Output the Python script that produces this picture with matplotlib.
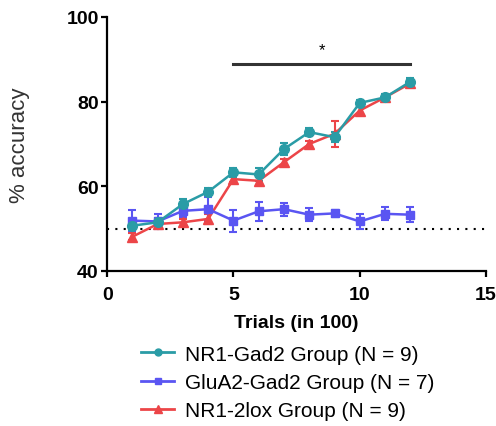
import numpy as np
import matplotlib
matplotlib.use("Agg")
import matplotlib.pyplot as plt
from matplotlib.lines import Line2D

plt.rcParams['font.family'] = ['Liberation Sans', 'DejaVu Sans']

trials = np.arange(1, 13)

nr1_gad2 = [50.7, 51.5, 55.8, 58.7, 63.3, 62.8, 68.8, 72.8, 71.6, 79.7, 81.0, 84.7]
nr1_gad2_err = [1.0, 1.0, 1.2, 0.8, 1.0, 1.5, 1.5, 1.0, 1.2, 0.8, 0.8, 0.8]

glua2_gad2 = [51.9, 51.7, 54.2, 54.6, 51.9, 54.1, 54.6, 53.3, 53.6, 51.7, 53.5, 53.3]
glua2_gad2_err = [2.5, 1.8, 1.5, 2.8, 2.6, 2.2, 1.5, 1.5, 0.8, 1.8, 1.5, 1.8]

nr1_2lox = [48.1, 51.1, 51.5, 52.3, 61.7, 61.3, 65.7, 70.0, 72.4, 77.9, 81.0, 84.3]
nr1_2lox_err = [0.8, 0.8, 0.8, 1.2, 0.8, 1.0, 0.8, 0.8, 3.0, 0.8, 0.8, 0.8]

labels = ['NR1-Gad2 Group (N = 9)', 'GluA2-Gad2 Group (N = 7)', 'NR1-2lox Group (N = 9)']
c_teal = '#2a9ca6'
c_blue = '#5a55f2'
c_red = '#ec4548'

fig = plt.figure(figsize=(4.96, 4.27), dpi=100)
ax = fig.add_axes([0.216, 0.363, 0.764, 0.595])

ax.errorbar(trials, nr1_2lox, yerr=nr1_2lox_err, color=c_red, marker='^',
            markersize=7, lw=1.8, capsize=3, elinewidth=1.5, capthick=1.5)
ax.errorbar(trials, glua2_gad2, yerr=glua2_gad2_err, color=c_blue, marker='s',
            markersize=6, lw=1.8, capsize=3, elinewidth=1.5, capthick=1.5)
ax.errorbar(trials, nr1_gad2, yerr=nr1_gad2_err, color=c_teal, marker='o',
            markersize=7, lw=1.8, capsize=3, elinewidth=1.5, capthick=1.5)

# chance level
ax.axhline(50, color='black', ls=(0, (1, 3)), lw=1.5, zorder=0)

# significance bar
ax.plot([5, 12], [89, 89], color='#333333', lw=2.2)
ax.text(8.5, 92.3, '*', ha='center', va='center', fontsize=12)

ax.set_xlim(0, 15)
ax.set_ylim(40, 100)
ax.set_xticks([0, 5, 10, 15])
ax.set_yticks([40, 60, 80, 100])
for s in ['top', 'right']:
    ax.spines[s].set_visible(False)
for s in ['left', 'bottom']:
    ax.spines[s].set_linewidth(1.6)
ax.tick_params(width=1.6, length=4, labelsize=14)
ax.tick_params(axis='x', pad=7)
ax.tick_params(axis='y', pad=2)
for t in ax.get_xticklabels() + ax.get_yticklabels():
    t.set_fontweight('bold')

ax.set_xlabel('Trials (in 100)', fontsize=14, fontweight='bold', labelpad=8)
ax.set_ylabel('% accuracy', fontsize=16, color='#333333', labelpad=26)

handles = [Line2D([], [], color=c_teal, marker='o', markersize=5, lw=2),
           Line2D([], [], color=c_blue, marker='s', markersize=4.5, lw=2),
           Line2D([], [], color=c_red, marker='^', markersize=6, lw=2)]
fig.legend(handles, labels, loc='upper center',
           bbox_to_anchor=(0.58, 0.215), frameon=False, fontsize=15,
           handlelength=1.6, handletextpad=0.5, labelspacing=0.45,
           borderpad=0)

fig.savefig('out.png', dpi=100)
